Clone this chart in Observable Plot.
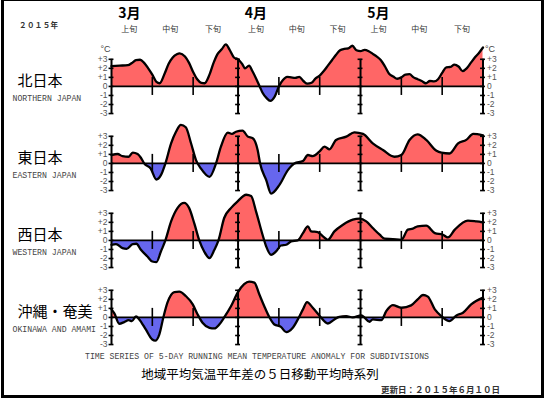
<!DOCTYPE html>
<html><head><meta charset="utf-8">
<script src="https://cdn.jsdelivr.net/npm/d3@7"></script>
<script src="https://cdn.jsdelivr.net/npm/@observablehq/plot@0.6"></script>
<style>
body{margin:0;background:#fff}
#wrap{position:relative;width:545px;height:398px;overflow:hidden;background:#fff}
#wrap svg{position:absolute;left:0;top:0}
.lab{position:absolute;white-space:nowrap;transform:translate(-50%,-50%);line-height:1}
#frame{position:absolute;left:1px;top:-2px;width:543px;height:400px;box-sizing:border-box;border:3px solid #000;pointer-events:none}
</style></head>
<body>
<div id="wrap"><div id="frame"></div></div>
<script>
// ---- data (day offset from 1 March 2015, anomaly °C) ----
const regions = ["北日本", "東日本", "西日本", "沖縄・奄美"];
const regionsEn = ["NORTHERN JAPAN", "EASTERN JAPAN", "WESTERN JAPAN", "OKINAWA AND AMAMI"];
const north = [[0,2.25],[2,2.3],[4,2.35],[5,2.6],[6,2.9],[7,2.95],[8,2.6],[9,2.0],[10,1.3],[11,0.5],[11.8,0.35],[13,1.4],[14,2.5],[15,3.2],[16,3.55],[16.7,3.65],[18,3.3],[19,2.6],[20,1.6],[21,0.8],[22,0.4],[22.8,0.35],[24,1.3],[25,2.6],[26,3.6],[27,4.1],[28,4.65],[29,4.0],[30,3.2],[31,3.0],[32,2.5],[32.7,2.0],[33.7,2.3],[34.5,1.7],[35.5,0.8],[36.3,0],[37,-0.7],[38,-1.3],[38.9,-1.6],[40,-1.1],[41,0],[42,0.7],[43,1.05],[44,1.0],[45,0.95],[46,1.05],[47,0.6],[48,0.3],[49,0.4],[50,0.9],[51,1.2],[52,1.7],[53,2.3],[54,2.9],[55,3.5],[56,4.0],[57,4.15],[58,4.2],[59,4.5],[60,4.0],[61,3.9],[62,4.05],[63,3.9],[64,3.6],[65,3.3],[66,2.9],[67,2.2],[68,1.4],[69,1.1],[70,0.85],[71,1.0],[72,1.3],[73,1.35],[74,1.0],[75,0.8],[76,0.6],[77,0.35],[78,0.6],[79,0.55],[80,0.8],[81,1.5],[82,2.1],[83,2.15],[84,2.4],[85,2.2],[86,1.7],[87,2.0],[88,2.6],[89,3.2],[90,3.7],[91,4.3]];
const east = [[0,0.93],[1.5,1.04],[2.7,0.8],[4.2,0.74],[5.2,1.19],[6.4,1.04],[7.2,0.63],[8,0],[9.6,-0.56],[11,-1.78],[12.1,-1.3],[13.2,0],[14.6,2.22],[15.8,3.5],[17,4.26],[18.2,4.0],[19.5,2.2],[20.7,0.37],[21.9,-0.56],[24,-1.48],[25.6,0],[26.8,1.85],[28.5,3.4],[29.5,3.26],[30.5,3.5],[32.1,3.63],[33.4,2.96],[34.6,2.78],[35.8,1.48],[36.4,0],[37.9,-1.85],[39.1,-3.33],[41.1,-2.4],[43.2,-0.74],[44.8,0],[46.9,0.26],[48.1,0.93],[49.3,0.81],[50.9,1.3],[52.2,1.85],[53.4,1.56],[55,2.6],[57.5,2.96],[59.5,3.44],[61.6,3.26],[64,2.22],[66.5,1.48],[69.3,0.74],[71,0.93],[73,2.6],[75,3.22],[77.1,2.6],[79.6,1.4],[80.8,1.19],[82.8,1.1],[84.9,2.22],[86.9,2.6],[88.6,3.26],[91,3.1]];
const west = [[0,-0.48],[1.1,-0.41],[2.7,-0.85],[3.7,-0.93],[5.2,-0.41],[6.1,-0.37],[7.2,-1.04],[8.8,-1.78],[10,-2.33],[11,-2.4],[12.1,-1.22],[13.2,0],[14.6,2.1],[16.2,3.6],[17.8,4.15],[19,3.6],[20.3,1.85],[21.5,0],[22.7,-1.22],[24,-1.96],[25.2,-1.04],[26.2,0],[27.6,2.48],[29.3,3.6],[30.9,4.33],[33,5.05],[34.2,4.9],[35.4,3.22],[37,0.63],[37.9,-0.67],[39.1,-1.6],[40.3,-1.22],[41.5,-0.56],[42.8,-0.48],[44,-0.11],[45.6,0],[46.9,0.81],[48.1,1.56],[48.9,1.0],[50.5,0.93],[51.8,0.44],[53,0.07],[54.6,1.0],[56.7,1.74],[59.1,2.3],[60.8,2.4],[62.4,2.1],[64,1.37],[65.7,0.63],[66.9,0.19],[68.9,0.15],[71,0.07],[72.6,1.19],[73.8,1.3],[75,1.56],[77.1,1.63],[79.2,0.81],[81.2,0.63],[82.4,0.33],[84.1,1.19],[87.3,2.19],[89.4,2.1],[91,2.0]];
const okinawa = [[0,0.89],[0.7,0.44],[1.9,-0.7],[3.1,-0.52],[4.2,-0.3],[5,-0.41],[6,0.11],[6.8,-0.22],[8.4,-1.33],[10,-2.44],[10.7,-2.56],[11.7,-1.89],[12.7,0],[13.7,1.63],[15.4,2.81],[16.6,2.85],[18.2,2.37],[19.9,1.44],[21.1,0.33],[22.3,-0.59],[24,-1.15],[25.2,-1.22],[26.4,-0.78],[27.6,0],[29.3,1.26],[30.9,2.74],[32.5,3.67],[33.7,3.96],[35,3.85],[36.2,2.56],[37.4,1.26],[38.7,0],[39.9,-0.78],[41.5,-1.04],[42.8,-1.63],[44.4,-1.15],[45.9,0],[46.9,0.89],[47.9,1.7],[49.3,1.07],[50.9,0.22],[53,-0.67],[54.6,-0.22],[55.8,0.07],[57.5,0.15],[59.1,0],[61.2,0.22],[63.2,-0.48],[64,-0.22],[66.1,-0.3],[67.3,0.7],[68.9,1.37],[71,1.07],[73.4,1.33],[75,2.0],[76.3,2.48],[77.5,2.3],[79.2,0.89],[80.8,0.15],[82.8,-0.41],[84.5,0.22],[86.1,0.52],[88.1,1.44],[91,2.19]];
const monthLabels = ["3月", "4月", "5月"];
const monthNums = [3, 4, 5];
const dekadLabels = ["上旬", "中旬", "下旬"];
const yTicks = [3, 2, 1, 0, -1, -2, -3];
const yTickLabels = ["+3", "+2", "+1", "0", "-1", "-2", "-3"];
const yearLabel = "２０１５年";
const captionEn = "TIME SERIES OF 5-DAY RUNNING MEAN TEMPERATURE ANOMALY FOR SUBDIVISIONS";
const captionJa = "地域平均気温平年差の５日移動平均時系列";
const updated = "更新日：２０１５年６月１０日";

// ---- helpers ----
const DAY = 864e5;
const MAR1 = Date.UTC(2015, 2, 1);
const toDate = d => new Date(MAR1 + d * DAY);
const md = (m, d) => new Date(Date.UTC(2015, m - 1, d));
const series = [north, east, west, okinawa];
const rows = regions.flatMap((r, i) => series[i].map(([d, v]) => ({region: r, date: toDate(d), value: v})));
const majorDates = [md(3,1), md(4,1), md(5,1), md(5,31)];
const minorDates = [md(3,11), md(3,21), md(4,11), md(4,21), md(5,11), md(5,21)];
const crossTicks = majorDates.flatMap(date => yTicks.map(v => ({date, v})));

let clipN = 0;
function clipSide(above) {
  return function(index, scales, values, dims, context, next) {
    const g = next(index, scales, values, dims, context);
    if (!g) return g;
    const ns = "http://www.w3.org/2000/svg";
    const y0 = scales.y(0);
    const id = "zclip" + (clipN++);
    const wrap = document.createElementNS(ns, "g");
    const cp = document.createElementNS(ns, "clipPath");
    cp.setAttribute("id", id);
    cp.setAttribute("clipPathUnits", "userSpaceOnUse");
    const r = document.createElementNS(ns, "rect");
    r.setAttribute("x", -2000); r.setAttribute("width", 5000);
    if (above) { r.setAttribute("y", -2000); r.setAttribute("height", 2000 + y0); }
    else { r.setAttribute("y", y0); r.setAttribute("height", 2000); }
    cp.appendChild(r);
    wrap.appendChild(cp);
    g.setAttribute("clip-path", `url(#${id})`);
    wrap.appendChild(g);
    return wrap;
  };
}

const mono = "Liberation Mono, DejaVu Sans Mono, monospace";
const cjk = "Noto Sans CJK JP, sans-serif";

const chart = Plot.plot({
  width: 545, height: 398,
  marginLeft: 111, marginRight: 62.5, marginTop: 36.8, marginBottom: 51.2,
  style: {background: "transparent", fontFamily: "Liberation Sans, sans-serif", overflow: "visible"},
  x: {type: "utc", domain: [md(3,1), md(5,31)], axis: null},
  y: {domain: [-3.216, 5.3], axis: null},
  fy: {domain: regions, padding: 0, axis: null},
  marks: [
    Plot.areaY(rows, {x: "date", y1: 0, y2: "value", fy: "region", fill: "#ff6666", curve: "monotone-x", render: clipSide(true)}),
    Plot.areaY(rows, {x: "date", y1: 0, y2: "value", fy: "region", fill: "#6666ee", curve: "monotone-x", render: clipSide(false)}),
    Plot.ruleY([0], {stroke: "#000", strokeWidth: 1.6}),
    Plot.ruleX(minorDates, {x: d => d, y1: -1, y2: 1, stroke: "#000", strokeWidth: 1.6}),
    Plot.line(rows, {x: "date", y: "value", fy: "region", stroke: "#000", strokeWidth: 2.3, curve: "monotone-x", strokeLinejoin: "round"}),
    Plot.ruleX(majorDates, {x: d => d, y1: -3, y2: 3, stroke: "#000", strokeWidth: 2}),
    Plot.ruleY(crossTicks, {x1: d => new Date(+d.date - 0.6 * DAY), x2: d => new Date(+d.date + 0.6 * DAY), y: "v", stroke: "#000", strokeWidth: 1.6}),
    Plot.text(yTicks, {y: d => d, text: (d, i) => yTickLabels[i], frameAnchor: "left", dx: -4, textAnchor: "end", fontSize: 8.5, fill: "#555"}),
    Plot.text(yTicks, {y: d => d, text: (d, i) => yTickLabels[i], frameAnchor: "right", dx: 4, textAnchor: "start", fontSize: 8.5, fill: "#555"}),
    Plot.text([regions[0]], {fy: d => d, y: 3, dy: -10, frameAnchor: "left", dx: -1, textAnchor: "end", text: () => "°C", fontSize: 9, fill: "#444"}),
    Plot.text([regions[0]], {fy: d => d, y: 3, dy: -10, frameAnchor: "right", dx: 2, textAnchor: "start", text: () => "°C", fontSize: 9, fill: "#444"}),
    Plot.text(regions, {fy: d => d, y: 0, dy: -5, frameAnchor: "left", dx: -94, textAnchor: "start", text: d => d, fontSize: 15, fontFamily: cjk, fill: "#000"}),
    Plot.text(regions, {fy: d => d, y: 0, dy: 11.5, frameAnchor: "left", dx: -99, textAnchor: "start", text: (d, i) => regionsEn[i], fontSize: 8.2, fontFamily: mono, fill: "#444"})
  ]
});

const wrapEl = document.getElementById("wrap");
wrapEl.insertBefore(chart, wrapEl.firstChild);

const xs = chart.scale("x");
function addLabel(text, x, y, style) {
  const s = document.createElement("span");
  s.className = "lab";
  s.textContent = text;
  s.style.left = x + "px";
  s.style.top = y + "px";
  Object.assign(s.style, style);
  wrapEl.insertBefore(s, document.getElementById("frame"));
  return s;
}
monthNums.forEach((m, i) => {
  addLabel(monthLabels[i], xs.apply(new Date(+md(m, 1) + 4.5 * DAY)), 12, {fontFamily: cjk, fontWeight: "bold", fontSize: "14px", color: "#000"});
  const ends = [md(m, 11), md(m, 21), md(m + 1, 1)];
  const starts = [md(m, 1), md(m, 11), md(m, 21)];
  dekadLabels.forEach((dl, j) => {
    const c = new Date((+starts[j] + +ends[j] - DAY) / 2);
    addLabel(dl, xs.apply(c), 29, {fontFamily: cjk, fontSize: "8px", color: "#333"});
  });
});
const yl = addLabel(yearLabel, 0, 25, {fontFamily: cjk, fontWeight: "bold", fontSize: "7.5px", color: "#333", letterSpacing: "0.4px", transform: "translate(0,-50%)"});
yl.style.left = "19px";
addLabel(captionEn, 257, 357, {fontFamily: mono, fontSize: "8.2px", color: "#444"});
addLabel(captionJa, 260, 374, {fontFamily: cjk, fontSize: "12.5px", color: "#000"});
const up = addLabel(updated, 0, 389, {fontFamily: cjk, fontWeight: "bold", fontSize: "8.5px", color: "#333", transform: "translate(-100%,-50%)"});
up.style.left = "500px";
</script>
</body></html>
